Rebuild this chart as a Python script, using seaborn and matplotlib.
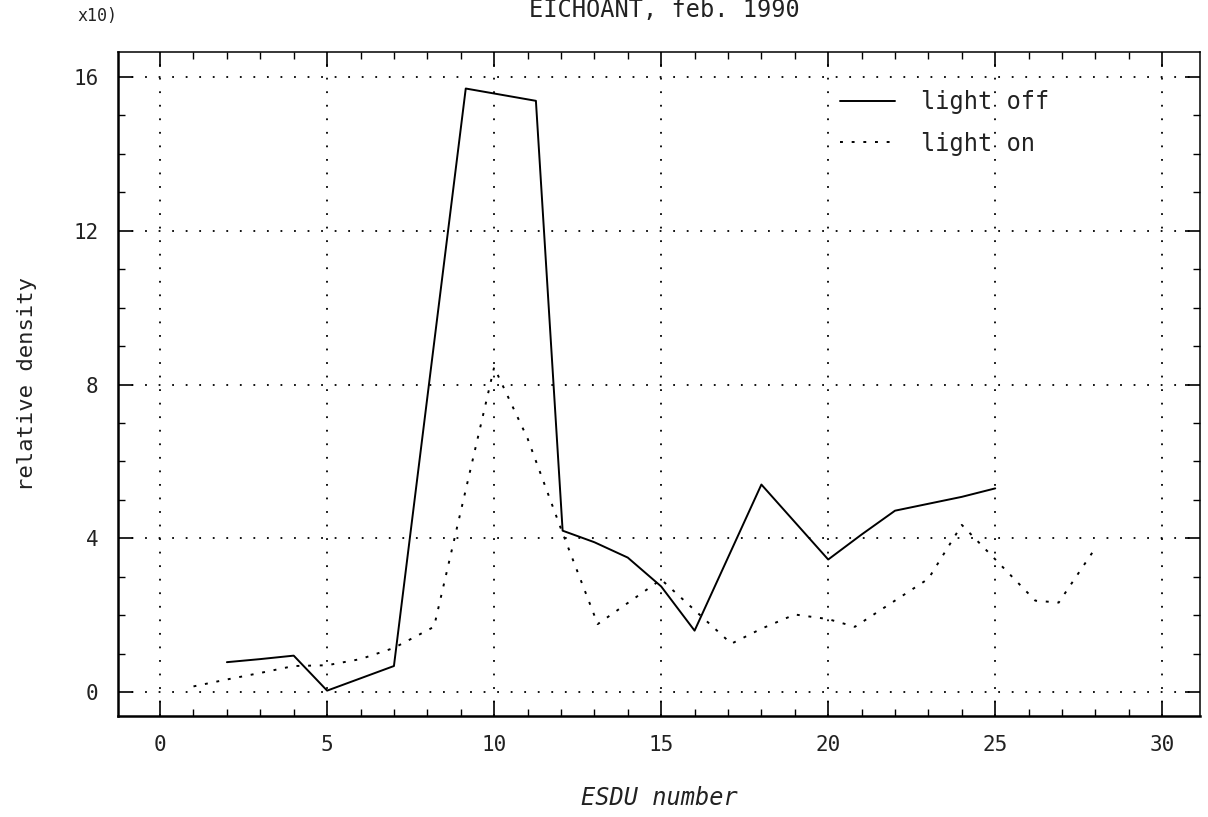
import numpy as np
import pandas as pd
import matplotlib
matplotlib.use("Agg")
import matplotlib.pyplot as plt
import seaborn as sns

# ---- data ----
off_x = [2, 3, 4, 5, 6, 7, 9.15, 11.25, 12.05, 13, 14, 15, 16, 18, 20, 21, 22, 23, 24, 25]
off_y = [0.78, 0.86, 0.95, 0.04, 0.36, 0.68, 15.7, 15.38, 4.2, 3.9, 3.5, 2.75, 1.6, 5.4, 3.45, 4.1, 4.72, 4.9, 5.08, 5.3]

on_x = [1, 2, 3, 4, 5, 6, 7, 8.2, 10, 11, 12, 13.1, 15, 17.1, 18, 19, 20, 20.8, 23, 24, 26.2, 26.9, 28]
on_y = [0.15, 0.33, 0.5, 0.68, 0.7, 0.86, 1.15, 1.7, 8.45, 6.6, 4.25, 1.77, 2.93, 1.26, 1.65, 2.02, 1.9, 1.7, 2.95, 4.35, 2.38, 2.33, 3.75]

series_names = ["light off", "light on"]
x_ticks = [0, 5, 10, 15, 20, 25, 30]
y_ticks = [0, 4, 8, 12, 16]
title = "EICHOANT, feb. 1990"
x_label = "ESDU number"
y_label = "relative density"
corner_text = "x10)"

df = pd.concat([
    pd.DataFrame({"ESDU": off_x, "density": off_y, "series": series_names[0]}),
    pd.DataFrame({"ESDU": on_x, "density": on_y, "series": series_names[1]}),
], ignore_index=True)

sns.set_theme(style="ticks")
plt.rcParams["font.family"] = ["DejaVu Sans Mono", "DejaVu Sans"]
plt.rcParams["text.color"] = "#222222"
plt.rcParams["axes.labelcolor"] = "#222222"

fig = plt.figure(figsize=(12.08, 8.17), dpi=100)
ax = fig.add_axes([118 / 1208, 1 - 716 / 817, (1200 - 118) / 1208, (716 - 52) / 817])

sns.lineplot(data=df, x="ESDU", y="density", hue="series", style="series",
             palette={"light off": "black", "light on": "black"},
             dashes={"light off": "", "light on": (1.5, 4.5)},
             estimator=None, sort=False, linewidth=1.4, ax=ax)

ax.set_xlim(-1.26, 31.13)
ax.set_ylim(-0.62, 16.65)
ax.set_xticks(x_ticks)
ax.set_yticks(y_ticks)
ax.set_xticks(np.arange(0, 31, 1), minor=True)
ax.set_yticks(np.arange(0, 17, 1), minor=True)
ax.tick_params(which="both", direction="in", top=True, right=True, colors="black",
               labelcolor="#222222")
ax.tick_params(which="major", length=11, width=1.2, labelsize=15, pad=14)
ax.tick_params(which="minor", length=5, width=1.0)
ax.grid(which="major", color="black", linestyle=(0, (1, 6.5)), linewidth=1.3)

for side, sp in ax.spines.items():
    sp.set_color("black")
    sp.set_linewidth(1.8 if side in ("left", "bottom") else 1.1)

ax.set_xlabel(x_label, fontsize=17, fontstyle="italic", labelpad=22)
ax.set_ylabel(y_label, fontsize=16, labelpad=26)

handles, labels = ax.get_legend_handles_labels()
ax.legend(handles, labels, loc="upper left", bbox_to_anchor=(0.648, 0.975),
          frameon=False, fontsize=17, handlelength=2.3, handletextpad=1.1,
          labelspacing=0.75)

fig.text(664 / 1208, 1 - 10 / 817, title, ha="center", va="center", fontsize=17)
fig.text(97 / 1208, 1 - 16 / 817, corner_text, ha="center", va="center", fontsize=12)

fig.savefig("out.png", dpi=100, facecolor="white")
